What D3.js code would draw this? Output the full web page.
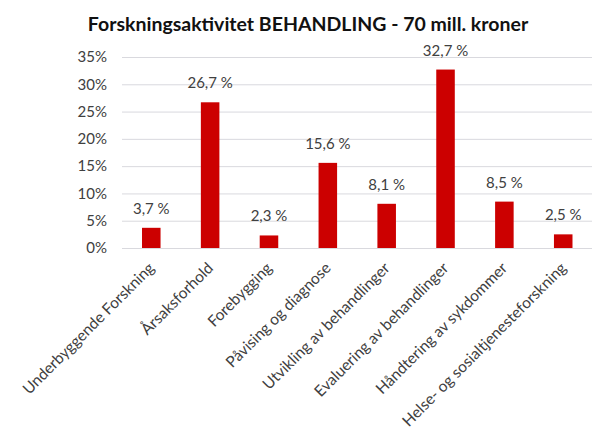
<!DOCTYPE html>
<html>
<head>
<meta charset="utf-8">
<script src="https://cdn.jsdelivr.net/npm/d3@7"></script>
<style>
  body { margin: 0; background: #fff; }
  text { font-family: Lato, "Noto Sans", sans-serif; }
</style>
</head>
<body>
<div id="chart"></div>
<script>
var categories = ["Underbyggende Forskning", "Årsaksforhold", "Forebygging", "Påvising og diagnose",
    "Utvikling av behandlinger", "Evaluering av behandlinger", "Håndtering av sykdommer",
    "Helse- og sosialtjenesteforskning"];
var values = [3.7, 26.7, 2.3, 15.6, 8.1, 32.7, 8.5, 2.5];
var yTicks = [0, 5, 10, 15, 20, 25, 30, 35];
var title = "Forskningsaktivitet BEHANDLING - 70 mill. kroner";

var svgWidth = 592;
var svgHeight = 442;

var margin = { top: 57, right: 0, bottom: 194, left: 122 };
var width = 470.5;
var height = svgHeight - margin.top - margin.bottom;

var svg = d3.select("#chart")
    .append("svg")
    .attr("width", svgWidth)
    .attr("height", svgHeight);

svg.append("text")
    .attr("x", 308)
    .attr("y", 31)
    .attr("text-anchor", "middle")
    .attr("font-size", 19.5)
    .attr("font-weight", "bold")
    .attr("fill", "#111")
    .text(title);

var chartGroup = svg.append("g")
    .attr("transform", `translate(${margin.left}, ${margin.top})`);

var xScale = d3.scaleBand()
    .domain(categories)
    .range([0, width])
    .paddingInner(0.685)
    .paddingOuter(0.34);

var yScale = d3.scaleLinear()
    .domain([0, 35])
    .range([height, 0]);

//gridlines + y tick labels
var leftAxis = d3.axisLeft(yScale)
    .tickValues(yTicks)
    .tickSize(-width)
    .tickPadding(15)
    .tickFormat(d => d + "%");

var yAxis = chartGroup.append("g").call(leftAxis);
yAxis.select(".domain").remove();
yAxis.selectAll("line").attr("stroke", "#d9d9de").attr("stroke-width", 1);
yAxis.selectAll("text")
    .attr("font-size", 15)
    .attr("fill", "#404040")
    .style("font-family", "Lato, sans-serif");

//bars
chartGroup.selectAll("rect.bar")
    .data(values)
    .enter()
    .append("rect")
    .attr("class", "bar")
    .attr("x", (d, i) => xScale(categories[i]))
    .attr("y", d => yScale(d))
    .attr("width", xScale.bandwidth())
    .attr("height", d => height - yScale(d))
    .attr("fill", "#cc0000");

//value labels
chartGroup.selectAll("text.val")
    .data(values)
    .enter()
    .append("text")
    .attr("class", "val")
    .attr("x", (d, i) => xScale(categories[i]) + xScale.bandwidth() / 2)
    .attr("y", d => yScale(d) - 14)
    .attr("text-anchor", "middle")
    .attr("font-size", 15)
    .attr("fill", "#404040")
    .text(d => d.toFixed(1).replace(".", ",") + " %");

//category labels rotated
chartGroup.selectAll("text.cat")
    .data(categories)
    .enter()
    .append("text")
    .attr("class", "cat")
    .attr("transform", d => `translate(${xScale(d) + xScale.bandwidth() / 2 + 4}, ${height + 21}) rotate(-45)`)
    .attr("text-anchor", "end")
    .attr("font-size", 15.5)
    .attr("fill", "#404040")
    .text(d => d);
</script>
</body>
</html>
